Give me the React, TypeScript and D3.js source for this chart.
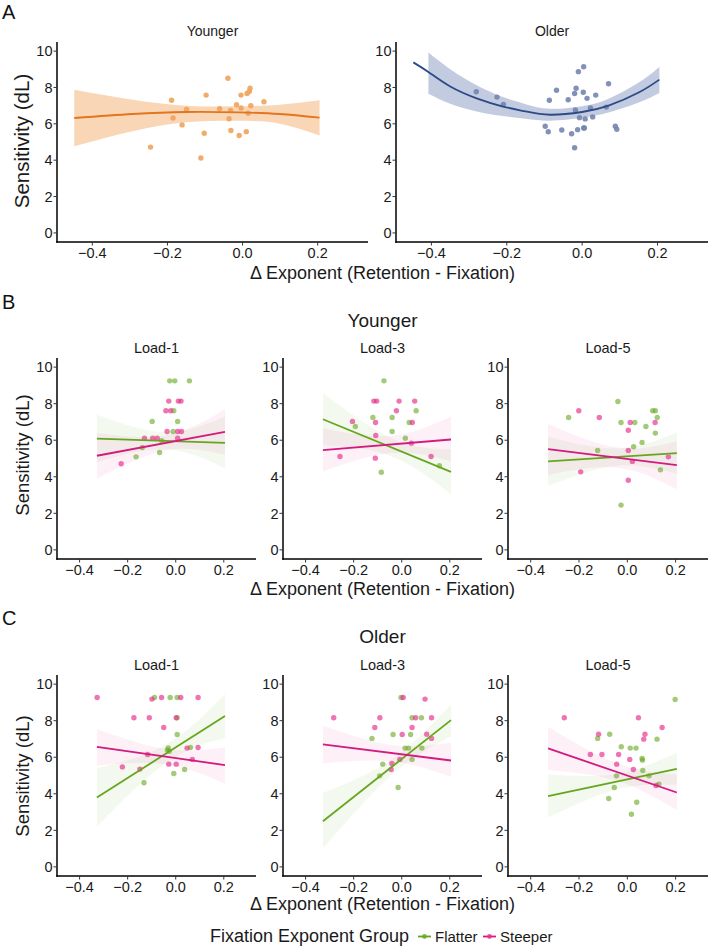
import React from 'react';
import * as d3 from 'd3';

type P = [number, number];

const FONT = '"Liberation Sans", Arial, Helvetica, sans-serif';

const xTicks = [-0.4, -0.2, 0.0, 0.2];
const yTicks = [0, 2, 4, 6, 8, 10];
const xDomain: [number, number] = [-0.494, 0.334];
const yDomain: [number, number] = [-0.5, 10.5];

const xTitle = 'Δ Exponent (Retention - Fixation)';
const yTitle = 'Sensitivity (dL)';
const legendTitle = 'Fixation Exponent Group';
const groupNames = ['Flatter', 'Steeper'];

// ---------- Panel A : Younger ----------
const aYoungerPts: P[] = [
  [-0.245, 4.72], [-0.189, 7.3], [-0.185, 6.32], [-0.161, 5.94], [-0.149, 6.79], [-0.111, 4.12],
  [-0.102, 5.48], [-0.097, 7.58], [-0.061, 6.83], [-0.039, 8.51], [-0.036, 6.28], [-0.032, 6.74],
  [-0.031, 5.63], [-0.016, 7.05], [-0.009, 5.36], [-0.004, 6.87], [-0.004, 7.58], [0.01, 5.57],
  [0.012, 7.67], [0.015, 6.58], [0.018, 7.78], [0.02, 7.96], [0.022, 7.0], [0.057, 7.21],
];
const aYoungerFitX = [-0.448, -0.293, -0.15, -0.008, 0.099, 0.205];
const aYoungerFitY = [6.32, 6.54, 6.65, 6.63, 6.54, 6.34];
const aYoungerLo = [4.77, 5.59, 6.08, 6.17, 6.01, 5.36];
const aYoungerHi = [7.87, 7.32, 7.0, 6.96, 7.05, 7.29];

// ---------- Panel A : Older ----------
const aOlderPts: P[] = [
  [-0.281, 7.76], [-0.226, 7.47], [-0.209, 7.07], [-0.098, 5.87], [-0.09, 5.56], [-0.087, 7.3],
  [-0.068, 7.85], [-0.054, 5.66], [-0.037, 7.32], [-0.028, 5.45], [-0.02, 4.68], [-0.02, 7.67],
  [-0.018, 6.76], [-0.016, 7.96], [-0.012, 5.68], [-0.01, 8.87], [-0.007, 6.34], [0.003, 7.74],
  [0.004, 9.14], [0.004, 5.77], [0.006, 5.77], [0.008, 6.27], [0.013, 7.4], [0.022, 6.87],
  [0.028, 6.38], [0.036, 7.58], [0.064, 6.92], [0.07, 8.2], [0.088, 5.87], [0.092, 5.7],
];
const aOlderFitX = [-0.448, -0.408, -0.35, -0.28, -0.21, -0.15, -0.085, 0.0, 0.07, 0.15, 0.205];
const aOlderFitY = [9.38, 8.85, 8.05, 7.4, 6.95, 6.68, 6.5, 6.65, 7.0, 7.72, 8.43];
const aOlderBandX = [-0.408, -0.35, -0.28, -0.21, -0.15, -0.085, 0.0, 0.07, 0.15, 0.205];
const aOlderLo = [7.65, 7.1, 6.68, 6.43, 6.28, 6.17, 6.33, 6.62, 7.17, 7.7];
const aOlderHi = [9.92, 9.0, 8.12, 7.47, 7.08, 6.83, 6.97, 7.38, 8.27, 9.13];

// ---------- Linear fits (B & C): x at start, middle, end ----------
const linFitX = [-0.328, -0.04, 0.205];

// B Younger Load-1
const bY1Flat: P[] = [
  [-0.025, 9.25], [-0.004, 9.25], [0.057, 9.25], [-0.098, 7.03], [-0.008, 7.61], [0.008, 7.03],
  [-0.011, 6.48], [-0.139, 5.6], [-0.165, 5.09], [-0.067, 5.33], [-0.058, 5.97],
];
const bY1Steep: P[] = [
  [-0.227, 4.71], [-0.13, 6.11], [-0.096, 6.11], [-0.077, 6.11], [-0.036, 6.48], [-0.041, 7.61],
  [-0.021, 7.61], [-0.029, 8.14], [0.011, 8.14], [0.022, 8.14], [0.008, 6.48], [0.024, 6.48], [0.008, 6.11],
];
const bY1FlatFit = [6.09, 5.97, 5.86];
const bY1FlatLo = [4.8, 5.5, 4.45];
const bY1FlatHi = [7.4, 6.45, 7.3];
const bY1SteepFit = [5.15, 5.86, 6.46];
const bY1SteepLo = [3.9, 5.45, 5.2];
const bY1SteepHi = [6.4, 6.27, 7.7];

// B Younger Load-3
const bY3Flat: P[] = [
  [-0.074, 9.25], [-0.12, 7.24], [-0.04, 7.24], [0.06, 7.61], [-0.193, 6.75], [-0.04, 6.48],
  [0.015, 6.11], [0.031, 6.97], [-0.085, 4.25], [0.157, 4.6],
];
const bY3Steep: P[] = [
  [-0.257, 5.11], [-0.205, 7.03], [-0.116, 8.14], [-0.104, 8.14], [-0.109, 6.97], [-0.108, 6.26],
  [-0.11, 5.02], [-0.022, 7.61], [-0.011, 8.14], [0.054, 8.14], [0.044, 6.97], [0.04, 5.84], [0.122, 5.11],
];
const bY3FlatFit = [7.15, 5.59, 4.27];
const bY3FlatLo = [5.72, 5.1, 3.05];
const bY3FlatHi = [8.58, 6.1, 5.49];
const bY3SteepFit = [5.46, 5.77, 6.04];
const bY3SteepLo = [4.29, 5.3, 4.84];
const bY3SteepHi = [6.66, 6.25, 7.3];

// B Younger Load-5
const bY5Flat: P[] = [
  [-0.243, 7.24], [-0.039, 8.12], [-0.026, 6.97], [0.031, 6.97], [0.077, 6.75], [0.105, 7.61],
  [0.116, 7.61], [0.124, 7.24], [0.116, 6.39], [0.061, 5.88], [0.026, 5.64], [-0.123, 5.44],
  [0.137, 4.38], [-0.026, 2.45],
];
const bY5Steep: P[] = [
  [-0.201, 7.61], [-0.116, 7.24], [0.012, 6.97], [0.004, 6.55], [0.115, 6.97], [0.004, 5.44],
  [0.021, 4.84], [-0.193, 4.27], [0.004, 3.81], [0.17, 5.09],
];
const bY5FlatFit = [4.84, 5.08, 5.29];
const bY5FlatLo = [3.5, 4.6, 4.15];
const bY5FlatHi = [6.2, 5.55, 6.42];
const bY5SteepFit = [5.51, 5.04, 4.64];
const bY5SteepLo = [4.1, 4.5, 3.32];
const bY5SteepHi = [6.9, 5.6, 5.95];

// C Older Load-1
const cO1Flat: P[] = [
  [-0.088, 9.27], [-0.023, 9.27], [0.006, 9.27], [0.006, 8.16], [0.006, 7.24], [0.061, 6.53],
  [-0.031, 6.51], [-0.035, 6.39], [-0.027, 6.33], [-0.008, 5.11], [0.037, 5.33], [-0.132, 4.6],
];
const cO1Steep: P[] = [
  [-0.327, 9.27], [-0.099, 9.18], [-0.059, 9.27], [0.021, 9.27], [0.093, 9.27], [-0.174, 8.16],
  [-0.11, 8.16], [0.002, 8.16], [-0.05, 7.63], [0.093, 6.53], [0.047, 6.5], [-0.117, 6.15],
  [-0.222, 5.47], [-0.149, 5.35], [-0.029, 5.62], [0.002, 5.62], [0.069, 5.88],
];
const cO1FlatFit = [3.8, 6.2, 8.25];
const cO1FlatLo = [2.2, 5.7, 7.05];
const cO1FlatHi = [5.4, 6.7, 9.45];
const cO1SteepFit = [6.57, 6.03, 5.57];
const cO1SteepLo = [5.55, 5.6, 4.55];
const cO1SteepHi = [7.55, 6.45, 6.55];

// C Older Load-3
const cO3Flat: P[] = [
  [-0.003, 9.27], [0.043, 8.16], [0.082, 8.16], [-0.124, 7.03], [-0.036, 7.24], [0.037, 7.24],
  [0.014, 6.5], [0.028, 6.5], [0.084, 6.5], [0.043, 5.88], [-0.079, 5.62], [-0.092, 4.98], [-0.015, 4.34],
];
const cO3Steep: P[] = [
  [-0.283, 8.16], [-0.091, 8.16], [-0.112, 7.63], [0.006, 9.27], [0.002, 7.24], [0.043, 7.63],
  [0.058, 8.16], [0.097, 9.18], [0.124, 8.16], [0.104, 7.26], [0.124, 7.03], [-0.041, 5.66],
  [-0.044, 5.33], [-0.008, 5.88],
];
const cO3FlatFit = [2.5, 5.49, 8.03];
const cO3FlatLo = [1.0, 5.05, 7.15];
const cO3FlatHi = [4.05, 5.9, 8.9];
const cO3SteepFit = [6.7, 6.22, 5.82];
const cO3SteepLo = [5.66, 5.77, 4.93];
const cO3SteepHi = [7.72, 6.67, 6.79];

// C Older Load-5
const cO5Flat: P[] = [
  [0.198, 9.16], [-0.073, 7.26], [-0.123, 7.03], [0.123, 6.99], [-0.025, 6.57], [0.012, 6.5],
  [0.036, 6.5], [0.061, 5.93], [0.063, 5.84], [0.064, 5.27], [-0.045, 4.98], [0.09, 4.98],
  [-0.054, 4.34], [0.131, 4.53], [-0.077, 3.74], [0.039, 3.54], [0.017, 2.88],
];
const cO5Steep: P[] = [
  [-0.261, 8.16], [0.046, 8.16], [0.144, 7.63], [-0.119, 7.26], [0.073, 7.26], [0.068, 6.99],
  [-0.153, 6.15], [-0.105, 6.15], [-0.036, 6.15], [0.01, 5.88], [-0.044, 5.62], [0.025, 5.33], [0.119, 4.45],
];
const cO5FlatFit = [3.87, 4.67, 5.36];
const cO5FlatLo = [2.7, 4.25, 4.5];
const cO5FlatHi = [5.05, 5.1, 6.25];
const cO5SteepFit = [6.48, 5.18, 4.07];
const cO5SteepLo = [5.3, 4.7, 3.1];
const cO5SteepHi = [7.65, 5.65, 5.05];

// ---------- styles ----------
const C = {
  orangeLine: '#E2761F', orangeBand: '#F9D6B6', orangePt: '#F0A35C',
  blueLine: '#2C4A86', blueBand: '#C3CBE0', bluePt: '#7385AF',
  greenLine: '#66A61E', greenPt: '#66A61E',
  pinkLine: '#D4197F', pinkPt: '#E7298A',
};

type Fit = {
  xs: number[]; ys: number[]; bx: number[]; lo: number[]; hi: number[];
  line: string; band: string; bandOpacity: number;
};
type Pts = { pts: P[]; color: string; opacity: number };

function Panel(props: {
  left: number; right: number; top: number; bottom: number;
  title?: string; titleY?: number; titleSize?: number;
  fits: Fit[]; points: Pts[];
}) {
  const { left, right, top, bottom, title, titleY, fits, points } = props;
  const x = d3.scaleLinear().domain(xDomain).range([left, right]);
  const y = d3.scaleLinear().domain(yDomain).range([bottom, top]);
  const line = d3.line<[number, number]>().x(d => x(d[0])).y(d => y(d[1])).curve(d3.curveNatural);
  const area = d3.area<[number, number, number]>()
    .x(d => x(d[0])).y0(d => y(d[1])).y1(d => y(d[2])).curve(d3.curveNatural);
  return (
    <g>
      {title && (
        <text x={(left + right) / 2} y={titleY} textAnchor="middle" fontSize={props.titleSize ?? 14.5} fill="#1a1a1a">
          {title}
        </text>
      )}
      {fits.map((f, i) => (
        <path key={'b' + i}
          d={area(f.bx.map((v, j) => [v, f.lo[j], f.hi[j]] as [number, number, number])) || ''}
          fill={f.band} fillOpacity={f.bandOpacity} stroke="none" />
      ))}
      {points.map((s, i) => (
        <g key={'p' + i}>
          {s.pts.map((p, j) => (
            <circle key={j} cx={x(p[0])} cy={y(p[1])} r={2.7} fill={s.color} fillOpacity={s.opacity} />
          ))}
        </g>
      ))}
      {fits.map((f, i) => (
        <path key={'l' + i}
          d={line(f.xs.map((v, j) => [v, f.ys[j]] as [number, number])) || ''}
          fill="none" stroke={f.line} strokeWidth={1.8} />
      ))}
      {/* axes */}
      <line x1={left} x2={left} y1={top} y2={bottom + 0.75} stroke="#000" strokeWidth={1.5} />
      <line x1={left - 0.75} x2={right} y1={bottom} y2={bottom} stroke="#000" strokeWidth={1.5} />
      {yTicks.map(t => (
        <g key={'yt' + t}>
          <line x1={left - 3.5} x2={left} y1={y(t)} y2={y(t)} stroke="#333" strokeWidth={1} />
          <text x={left - 4.5} y={y(t)} dy="0.36em" textAnchor="end" fontSize={14.5} fill="#1a1a1a">{t}</text>
        </g>
      ))}
      {xTicks.map(t => (
        <g key={'xt' + t}>
          <line x1={x(t)} x2={x(t)} y1={bottom} y2={bottom + 3.5} stroke="#333" strokeWidth={1} />
          <text x={x(t)} y={bottom + 16} textAnchor="middle" fontSize={14.5} fill="#1a1a1a">{d3.format('.1f')(t)}</text>
        </g>
      ))}
    </g>
  );
}

function lin(lineY: number[], lo: number[], hi: number[], steep: boolean): Fit {
  return {
    xs: [linFitX[0], linFitX[2]], ys: [lineY[0], lineY[2]], bx: linFitX, lo, hi,
    line: steep ? C.pinkLine : C.greenLine,
    band: steep ? C.pinkPt : C.greenPt, bandOpacity: 0.07,
  };
}
function grp(flat: P[], steep: P[]): Pts[] {
  return [
    { pts: flat, color: C.greenPt, opacity: 0.6 },
    { pts: steep, color: C.pinkPt, opacity: 0.65 },
  ];
}

const cols: [number, number][] = [[57, 256], [283, 482], [508, 708]];

export default function App() {
  const B_TOP = 358, B_BOT = 559, C_TOP = 675, C_BOT = 876;
  const bPanels = [
    { title: 'Load-1', flat: bY1Flat, steep: bY1Steep, fits: [lin(bY1FlatFit, bY1FlatLo, bY1FlatHi, false), lin(bY1SteepFit, bY1SteepLo, bY1SteepHi, true)] },
    { title: 'Load-3', flat: bY3Flat, steep: bY3Steep, fits: [lin(bY3FlatFit, bY3FlatLo, bY3FlatHi, false), lin(bY3SteepFit, bY3SteepLo, bY3SteepHi, true)] },
    { title: 'Load-5', flat: bY5Flat, steep: bY5Steep, fits: [lin(bY5FlatFit, bY5FlatLo, bY5FlatHi, false), lin(bY5SteepFit, bY5SteepLo, bY5SteepHi, true)] },
  ];
  const cPanels = [
    { title: 'Load-1', flat: cO1Flat, steep: cO1Steep, fits: [lin(cO1FlatFit, cO1FlatLo, cO1FlatHi, false), lin(cO1SteepFit, cO1SteepLo, cO1SteepHi, true)] },
    { title: 'Load-3', flat: cO3Flat, steep: cO3Steep, fits: [lin(cO3FlatFit, cO3FlatLo, cO3FlatHi, false), lin(cO3SteepFit, cO3SteepLo, cO3SteepHi, true)] },
    { title: 'Load-5', flat: cO5Flat, steep: cO5Steep, fits: [lin(cO5FlatFit, cO5FlatLo, cO5FlatHi, false), lin(cO5SteepFit, cO5SteepLo, cO5SteepHi, true)] },
  ];
  return (
    <div style={{ position: 'absolute', left: 0, top: 0 }}>
      <svg width={709} height={948} style={{ display: 'block', background: '#fff' }} fontFamily={FONT}>
        <rect width={709} height={948} fill="#fff" />
        {/* Panel A */}
        <text x={2} y={19} fontSize={20} fill="#111">A</text>
        <Panel left={57} right={368} top={42} bottom={242} title="Younger" titleY={36} titleSize={14}
          points={[{ pts: aYoungerPts, color: C.orangePt, opacity: 0.9 }]}
          fits={[{
            xs: aYoungerFitX, ys: aYoungerFitY, bx: aYoungerFitX, lo: aYoungerLo, hi: aYoungerHi,
            line: C.orangeLine, band: C.orangeBand, bandOpacity: 1,
          }]} />
        <Panel left={396} right={708} top={42} bottom={242} title="Older" titleY={36} titleSize={14}
          points={[{ pts: aOlderPts, color: C.bluePt, opacity: 0.9 }]}
          fits={[{
            xs: aOlderFitX, ys: aOlderFitY, bx: aOlderBandX, lo: aOlderLo, hi: aOlderHi,
            line: C.blueLine, band: C.blueBand, bandOpacity: 1,
          }]} />
        <text transform="translate(29,141) rotate(-90)" textAnchor="middle" fontSize={20.5} fill="#1a1a1a">{yTitle}</text>
        <text x={382.5} y={279} textAnchor="middle" fontSize={18} fill="#1a1a1a">{xTitle}</text>

        {/* Panel B */}
        <text x={2} y={309} fontSize={20} fill="#111">B</text>
        <text x={382.5} y={327} textAnchor="middle" fontSize={19} fill="#1a1a1a">Younger</text>
        {bPanels.map((p, i) => (
          <Panel key={'B' + i} left={cols[i][0]} right={cols[i][1]} top={B_TOP} bottom={B_BOT}
            title={p.title} titleY={353} points={grp(p.flat, p.steep)} fits={p.fits} />
        ))}
        <text transform="translate(29,455) rotate(-90)" textAnchor="middle" fontSize={18.5} fill="#1a1a1a">{yTitle}</text>
        <text x={382.5} y={595} textAnchor="middle" fontSize={18} fill="#1a1a1a">{xTitle}</text>

        {/* Panel C */}
        <text x={2} y={625} fontSize={20} fill="#111">C</text>
        <text x={382.5} y={643} textAnchor="middle" fontSize={19} fill="#1a1a1a">Older</text>
        {cPanels.map((p, i) => (
          <Panel key={'C' + i} left={cols[i][0]} right={cols[i][1]} top={C_TOP} bottom={C_BOT}
            title={p.title} titleY={670} points={grp(p.flat, p.steep)} fits={p.fits} />
        ))}
        <text transform="translate(29,776) rotate(-90)" textAnchor="middle" fontSize={18.5} fill="#1a1a1a">{yTitle}</text>
        <text x={382.5} y={910} textAnchor="middle" fontSize={18} fill="#1a1a1a">{xTitle}</text>

        {/* Legend */}
        <text x={210} y={942} fontSize={18} fill="#1a1a1a">{legendTitle}</text>
        {groupNames.map((g, i) => {
          const kx = [418, 483][i];
          const col = i === 0 ? C.greenLine : C.pinkLine;
          return (
            <g key={g}>
              <line x1={kx} x2={kx + 13} y1={936.5} y2={936.5} stroke={col} strokeWidth={1.8} />
              <circle cx={kx + 6.5} cy={936.5} r={2.4} fill={i === 0 ? C.greenPt : C.pinkPt} fillOpacity={0.8} />
              <text x={kx + 17} y={942} fontSize={15} fill="#1a1a1a">{g}</text>
            </g>
          );
        })}
      </svg>
    </div>
  );
}
